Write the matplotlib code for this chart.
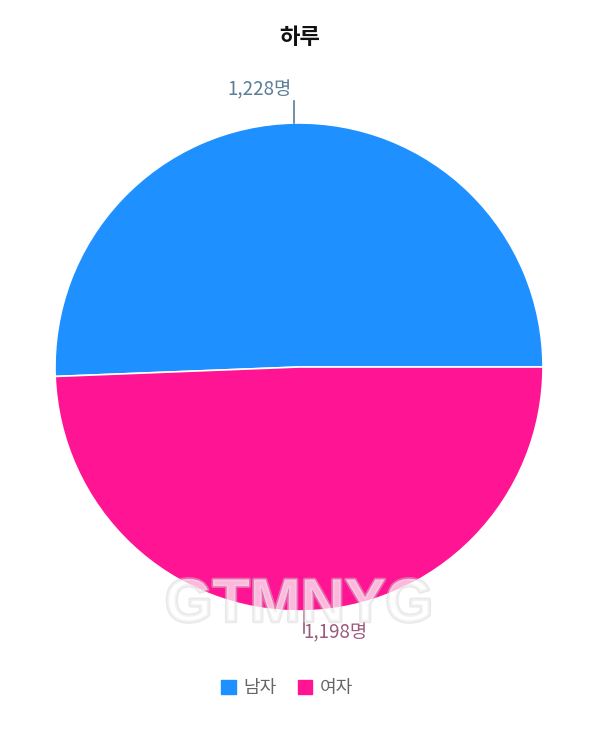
import numpy as np
import matplotlib.pyplot as plt
import matplotlib.patheffects as pe
from matplotlib.patches import Patch

plt.rcParams['font.family'] = ['Noto Sans CJK KR', 'DejaVu Sans']

title = "하루"
labels = ["남자", "여자"]
counts = [1228, 1198]
colors = ["#1e90ff", "#ff1493"]
label_colors = ["#5b7d96", "#9c5a7c"]

W, H = 600, 749
cx, cy, R = 299, 367, 244

fig = plt.figure(figsize=(W / 100, H / 100), dpi=100)
ax = fig.add_axes([0, 0, 1, 1])

wedges, _ = ax.pie(counts, colors=colors, startangle=0, counterclock=True,
                   radius=1, center=(0, 0),
                   wedgeprops=dict(edgecolor='white', linewidth=1.2))

ax.set_xlim(-cx / R, (W - cx) / R)
ax.set_ylim(-(H - cy) / R, cy / R)
ax.set_aspect('equal')
ax.axis('off')

# value labels with short leader lines
for i, w in enumerate(wedges):
    ang = np.deg2rad((w.theta1 + w.theta2) / 2)
    x0, y0 = np.cos(ang), np.sin(ang)
    x1, y1 = x0, y0 + np.sign(y0) * 0.09
    ax.plot([x0, x1], [y0, y1], color=label_colors[i], lw=1.2)
    txt = f"{counts[i]:,}명"
    if y0 > 0:
        ax.text(x1 - 0.01, y1 + 0.045, txt, ha='right', va='center',
                fontsize=13.5, color=label_colors[i])
    else:
        ax.text(x1 + 0.0, y1 - 0.0, txt, ha='left', va='center',
                fontsize=13.5, color=label_colors[i])

# watermark
ax.text(0.0, -(606 - cy) / R, "GTMNYG", ha='center', va='center',
        fontsize=44, fontweight='bold', color='white', alpha=0.45,
        family='Liberation Sans',
        path_effects=[pe.withStroke(linewidth=2.5, foreground='#d0d0d0')])

fig.text(0.5, 1 - 37 / H, title, ha='center', va='center',
         fontsize=16, fontweight='bold', color='#111111')

handles = [Patch(facecolor=c, edgecolor=c) for c in colors]
fig.legend(handles, labels, loc='center', bbox_to_anchor=(287 / W, 1 - 688 / H),
           ncol=2, frameon=False, fontsize=13, handlelength=0.8,
           handleheight=0.8, handletextpad=0.4, columnspacing=1.2,
           labelcolor='#666666')

fig.savefig("out.png", dpi=100, facecolor='white')
